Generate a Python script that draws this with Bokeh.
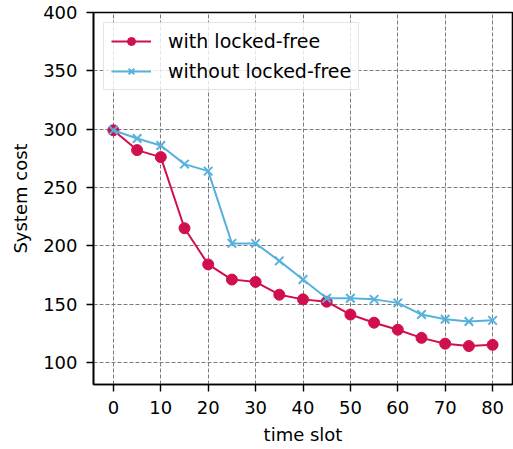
from bokeh.plotting import figure
from bokeh.models import Range1d, FixedTicker, Legend, LegendItem
from bokeh.embed import file_html
from bokeh.resources import INLINE

time_slots = [0, 5, 10, 15, 20, 25, 30, 35, 40, 45, 50, 55, 60, 65, 70, 75, 80]
with_locked_free = [299, 282, 276, 215, 184, 171, 169, 158, 154, 152, 141, 134, 128, 121, 116, 114, 115]
without_locked_free = [299, 292, 286, 270, 264, 202, 202, 187, 171, 155, 155, 154, 151, 141, 137, 135, 136]
x_ticks = [0, 10, 20, 30, 40, 50, 60, 70, 80]
y_ticks = [100, 150, 200, 250, 300, 350, 400]

RED = "#d0104c"
BLUE = "#56b2dd"
FONT = "DejaVu Sans"

p = figure(width=513, height=449, output_backend="svg", toolbar_location=None,
           x_range=Range1d(-4.2, 84.2), y_range=Range1d(81, 400),
           min_border_left=93, min_border_right=1, min_border_top=12, min_border_bottom=65)
p.background_fill_color = "white"
p.border_fill_color = "white"
p.outline_line_color = "black"
p.outline_line_width = 1.6

for ax in (p.xaxis, p.yaxis):
    ax.axis_line_color = "black"
    ax.axis_line_width = 1.6
    ax.major_tick_out = 7
    ax.major_tick_in = 0
    ax.major_tick_line_width = 1.4
    ax.minor_tick_line_color = None
    ax.major_label_text_font = FONT
    ax.major_label_text_font_size = "18px"
    ax.major_label_text_color = "black"
    ax.axis_label_text_font = FONT
    ax.axis_label_text_font_size = "18px"
    ax.axis_label_text_font_style = "normal"
    ax.axis_label_text_color = "black"
    ax.major_label_standoff = 9

p.xaxis.ticker = FixedTicker(ticks=x_ticks)
p.yaxis.ticker = FixedTicker(ticks=y_ticks)
p.xaxis.axis_label = "time slot"
p.yaxis.axis_label = "System cost"
p.xaxis.axis_label_standoff = 7
p.yaxis.axis_label_standoff = 9

for g in (p.xgrid, p.ygrid):
    g.grid_line_color = "#7a7a7a"
    g.grid_line_width = 1
    g.grid_line_dash = "4 2"

l1 = p.line(time_slots, with_locked_free, line_color=RED, line_width=2)
m1 = p.scatter(time_slots, with_locked_free, marker="circle", size=11,
               fill_color=RED, line_color=RED)
l2 = p.line(time_slots, without_locked_free, line_color=BLUE, line_width=2)
m2 = p.scatter(time_slots, without_locked_free, marker="x", size=12,
               line_color=BLUE, line_width=2)

legend = Legend(items=[LegendItem(label="with locked-free", renderers=[l1, m1]),
                       LegendItem(label="without locked-free", renderers=[l2, m2])],
                location="top_left")
legend.margin = 10
legend.padding = 7
legend.spacing = 8
legend.glyph_width = 40
legend.glyph_height = 20
legend.label_height = 20
legend.label_standoff = 17
legend.label_text_font = FONT
legend.label_text_font_size = "19px"
legend.label_text_color = "black"
legend.border_line_color = "#cccccc"
legend.border_line_width = 1.2
legend.background_fill_color = "white"
legend.background_fill_alpha = 0.8
p.add_layout(legend)

open("out.html", "w").write(file_html(p, INLINE))
